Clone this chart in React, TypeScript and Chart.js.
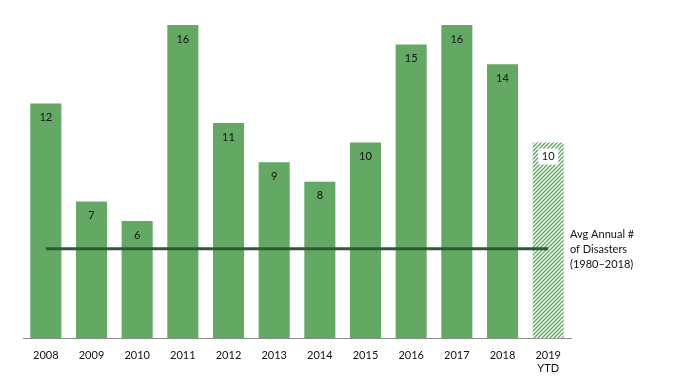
import React, { useEffect, useRef } from "react";
import { Chart, registerables } from "chart.js";

Chart.register(...registerables);

const categories: (string | string[])[] = ["2008", "2009", "2010", "2011", "2012", "2013", "2014", "2015", "2016", "2017", "2018", ["2019", "YTD"]];
const disasters: number[] = [12, 7, 6, 16, 11, 9, 8, 10, 15, 16, 14, 10];
const avgAnnual = 4.58;
const avgLabel: string[] = ["Avg Annual #", "of Disasters", "(1980\u20132018)"];

const GREEN = "#63a964";
const FONT = "Lato, 'Open Sans', sans-serif";

function makePattern(): CanvasPattern | string {
  const c = document.createElement("canvas");
  c.width = 4;
  c.height = 4;
  const g = c.getContext("2d");
  if (!g) return GREEN;
  g.fillStyle = "#ffffff";
  g.fillRect(0, 0, 4, 4);
  g.strokeStyle = GREEN;
  g.lineWidth = 1.4;
  g.beginPath();
  g.moveTo(-1, 5);
  g.lineTo(5, -1);
  g.moveTo(-1, 1);
  g.lineTo(1, -1);
  g.moveTo(3, 5);
  g.lineTo(5, 3);
  g.stroke();
  const p = g.createPattern(c, "repeat");
  return p || GREEN;
}

export default function App() {
  const ref = useRef<HTMLCanvasElement>(null);
  useEffect(() => {
    if (!ref.current) return;
    const pattern = makePattern();
    const colors = disasters.map((_, i) => (i === disasters.length - 1 ? pattern : GREEN));

    const labelPlugin = {
      id: "labels",
      afterDatasetsDraw(chart: any) {
        const ctx = chart.ctx;
        const meta = chart.getDatasetMeta(1);
        ctx.save();
        ctx.font = "11px " + FONT;
        ctx.textAlign = "center";
        ctx.textBaseline = "middle";
        meta.data.forEach((bar: any, i: number) => {
          const x = bar.x;
          const y = bar.y + 14;
          if (i === disasters.length - 1) {
            ctx.fillStyle = "#ffffff";
            ctx.fillRect(x - 10, y - 8, 20, 16);
          }
          ctx.fillStyle = "#111111";
          ctx.fillText(String(disasters[i]), x, y);
        });
        const area = chart.chartArea;
        const yAvg = chart.scales.y.getPixelForValue(avgAnnual);
        ctx.textAlign = "left";
        ctx.font = "11px " + FONT;
        avgLabel.forEach((t, k) => {
          ctx.fillText(t, area.right - 1, yAvg - 14 + k * 15);
        });
        ctx.restore();
      },
    };

    const chart = new Chart(ref.current, {
      type: "bar",
      data: {
        labels: categories as any,
        datasets: [
          {
            type: "line",
            data: disasters.map(() => avgAnnual),
            borderColor: "#2e5a36",
            borderWidth: 3,
            pointRadius: 0,
            order: 0,
          } as any,
          {
            type: "bar",
            data: disasters,
            backgroundColor: colors as any,
            barPercentage: 0.68,
            categoryPercentage: 1,
            order: 1,
          },
        ],
      },
      options: {
        animation: false,
        responsive: false,
        maintainAspectRatio: false,
        layout: { padding: { left: 23, right: 107, top: 25, bottom: 0 } },
        plugins: { legend: { display: false }, tooltip: { enabled: false } },
        scales: {
          x: {
            grid: { display: false, drawTicks: false },
            border: { display: true, color: "#8c8c8c", width: 1 },
            ticks: { color: "#111", font: { family: FONT, size: 11 }, padding: 10, maxRotation: 0 },
          },
          y: {
            display: false,
            min: 0,
            max: 16,
          },
        },
      },
      plugins: [labelPlugin],
    });
    return () => chart.destroy();
  }, []);
  return (
    <div style={{ position: "absolute", left: 0, top: 0, width: 678, height: 385, background: "#fff" }}>
      <canvas ref={ref} width={678} height={385} />
    </div>
  );
}
